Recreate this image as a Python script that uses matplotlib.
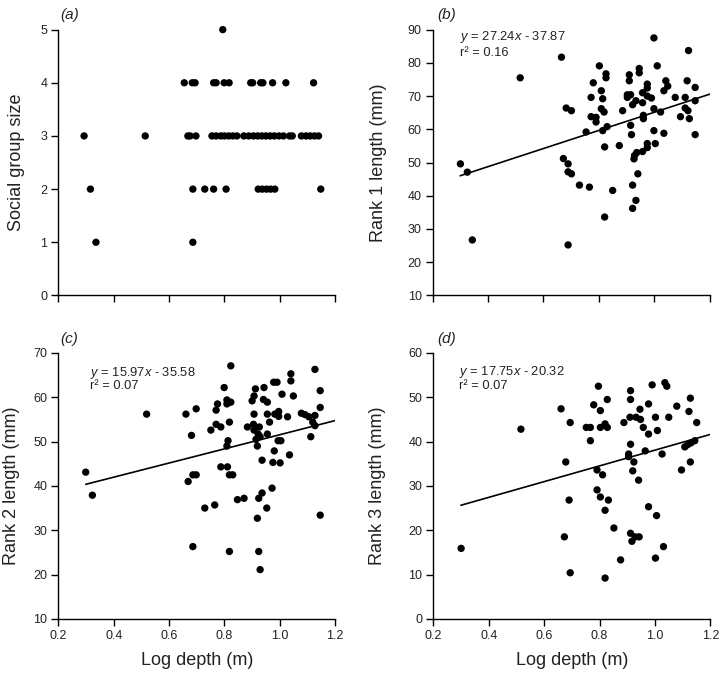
import matplotlib
matplotlib.use("Agg")
import numpy as np
import matplotlib.pyplot as plt

plt.rcParams["font.family"] = ["Liberation Sans", "DejaVu Sans"]
plt.rcParams["mathtext.fontset"] = "custom"
plt.rcParams["mathtext.it"] = "Liberation Sans:italic"
plt.rcParams["mathtext.rm"] = "Liberation Sans"

# (a) social group size vs log depth
a_depth = [0.794,
           0.655, 0.684, 0.694, 0.761, 0.770, 0.799, 0.817, 0.895, 0.902, 0.931, 0.939, 0.974, 1.022, 1.122,
           0.293, 0.514, 0.668, 0.676, 0.697, 0.755, 0.770, 0.787, 0.800, 0.815, 0.830, 0.845, 0.870, 0.888,
           0.905, 0.920, 0.935, 0.950, 0.965, 0.980, 0.997, 1.013, 1.035, 1.045, 1.078, 1.095, 1.110, 1.125, 1.140,
           0.316, 0.686, 0.729, 0.761, 0.806, 0.922, 0.937, 0.952, 0.967, 0.982, 1.148,
           0.336, 0.686]
a_size = [5,
          4, 4, 4, 4, 4, 4, 4, 4, 4, 4, 4, 4, 4, 4,
          3, 3, 3, 3, 3, 3, 3, 3, 3, 3, 3, 3, 3, 3,
          3, 3, 3, 3, 3, 3, 3, 3, 3, 3, 3, 3, 3, 3, 3,
          2, 2, 2, 2, 2, 2, 2, 2, 2, 2, 2,
          1, 1]

# (b) rank 1 length
b_depth = [0.300, 0.325, 0.343, 0.516, 0.665, 0.999, 1.124, 0.802, 1.011, 0.946, 0.946, 0.826, 0.826,
           0.910, 0.910, 0.780, 0.975, 0.975, 1.042, 1.049, 1.119, 1.148, 0.809, 0.772, 0.814, 0.903,
           0.915, 0.903, 0.958, 0.975, 0.990, 0.934, 1.035, 1.076, 1.112, 1.148, 0.682, 0.701, 0.809,
           0.819, 0.922, 0.958, 0.999, 1.023, 1.112, 1.122, 0.886, 0.772, 0.790, 0.790, 0.961, 0.961,
           1.095, 1.127, 0.754, 0.814, 0.830, 0.915, 0.999, 0.918, 1.035, 1.148, 0.821, 0.874, 0.975,
           0.975, 1.004, 0.937, 0.958, 0.929, 0.927, 0.672, 0.689, 0.689, 0.701, 0.941, 0.730, 0.766,
           0.850, 0.922, 0.934, 0.922, 0.821, 0.689]
b_rank1 = [49.6, 47.1, 26.7, 75.5, 81.7, 87.5, 83.7, 79.1, 79.1, 78.3, 77.0, 76.7, 75.5,
           76.4, 74.6, 74.0, 73.6, 72.4, 74.6, 73.0, 74.6, 72.6, 71.6, 69.6, 69.2, 70.4,
           70.4, 69.6, 71.0, 70.0, 69.4, 68.6, 71.6, 69.6, 69.6, 68.6, 66.4, 65.6, 66.2,
           65.2, 67.4, 68.0, 66.2, 65.2, 66.4, 65.6, 65.6, 63.8, 63.6, 62.2, 63.2, 64.2,
           63.8, 63.2, 59.2, 59.6, 60.8, 61.2, 59.6, 58.4, 58.8, 58.4, 54.7, 55.1, 55.7,
           54.5, 55.7, 53.0, 53.3, 52.1, 51.1, 51.2, 49.6, 47.2, 46.6, 46.6, 43.2, 42.6,
           41.6, 43.2, 38.6, 36.2, 33.6, 25.2]

# (c) rank 2 length
c_depth = [0.299, 0.323, 0.519, 0.823, 1.127, 1.040, 1.040, 0.978, 0.990, 0.799, 0.912, 0.943, 1.146,
           1.008, 1.049, 0.907, 0.900, 0.941, 0.955, 0.809, 0.823, 0.809, 0.775, 1.146, 0.698, 0.661,
           0.770, 0.907, 0.955, 0.982, 0.996, 0.996, 1.028, 1.078, 1.091, 1.105, 1.127, 1.119, 1.127,
           0.963, 0.818, 0.770, 0.787, 0.751, 0.883, 0.905, 0.926, 0.907, 0.922, 0.955, 0.681, 0.813,
           0.914, 0.929, 0.994, 1.004, 1.112, 0.809, 0.919, 0.980, 1.035, 0.936, 0.975, 1.001, 0.787,
           0.811, 0.686, 0.698, 0.818, 0.830, 0.669, 0.972, 0.936, 0.924, 0.847, 0.871, 0.765, 0.729,
           0.953, 0.919, 1.146, 0.686, 0.818, 0.924, 0.929]
c_rank2 = [43.1, 37.9, 56.2, 67.1, 66.3, 65.3, 63.7, 63.4, 63.4, 62.2, 61.9, 62.2, 61.5,
           60.7, 60.3, 60.3, 59.2, 59.5, 58.9, 59.4, 58.9, 58.5, 58.5, 57.7, 57.4, 56.2,
           57.1, 56.2, 56.2, 56.2, 56.8, 55.7, 55.6, 56.4, 56.1, 55.6, 55.9, 54.4, 53.6,
           54.4, 54.4, 53.9, 53.3, 52.6, 53.3, 53.9, 53.3, 52.6, 51.7, 51.7, 51.4, 50.2,
           50.5, 51.1, 50.2, 50.2, 51.1, 49.0, 49.0, 47.9, 47.0, 45.8, 45.3, 45.2, 44.3,
           44.3, 42.5, 42.5, 42.5, 42.5, 41.0, 39.5, 38.4, 37.2, 36.9, 37.2, 35.7, 35.0,
           35.0, 32.7, 33.4, 26.3, 25.2, 25.2, 21.1]

# (d) rank 3 length
d_depth = [0.300, 0.516, 0.796, 0.912, 0.912, 0.990, 1.036, 1.043, 0.828, 1.128, 0.779, 0.803, 0.661,
           0.977, 1.079, 1.123, 0.946, 0.910, 0.932, 0.948, 1.002, 1.050, 0.694, 1.151, 0.888, 0.752,
           0.767, 0.803, 0.820, 0.828, 0.958, 1.009, 0.977, 0.767, 0.912, 1.144, 1.130, 1.118, 1.108,
           0.965, 0.905, 0.905, 1.026, 0.678, 0.924, 1.128, 0.791, 0.920, 1.096, 0.811, 0.941, 0.791,
           0.690, 0.803, 0.832, 0.820, 0.977, 1.006, 0.852, 0.912, 0.929, 0.943, 0.917, 0.673, 1.031,
           0.876, 1.002, 0.694, 0.820]
d_rank3 = [15.9, 42.8, 52.5, 51.5, 49.5, 52.8, 53.3, 52.5, 49.5, 49.8, 48.3, 47.0, 47.4,
           48.5, 48.0, 46.8, 47.3, 45.5, 45.5, 45.0, 45.5, 45.5, 44.3, 44.3, 44.3, 43.2,
           43.2, 43.2, 44.0, 43.2, 43.2, 42.5, 41.7, 40.2, 39.4, 40.2, 39.7, 39.3, 38.8,
           37.9, 37.2, 36.6, 37.2, 35.4, 35.4, 35.4, 33.6, 33.4, 33.6, 32.5, 31.3, 29.1,
           26.8, 27.5, 26.8, 24.5, 25.3, 23.3, 20.5, 19.3, 18.5, 18.5, 17.5, 18.5, 16.3,
           13.3, 13.7, 10.4, 9.2]

# regression lines (slope, intercept) and printed labels
fit_slope = [27.24, 15.97, 17.75]
fit_icept = [37.87, 35.58, 20.32]
fit_label = ["$y$ = 27.24$x$ - 37.87", "$y$ = 15.97$x$ - 35.58", "$y$ = 17.75$x$ - 20.32"]
fit_r2 = ["r\u00b2 = 0.16", "r\u00b2 = 0.07", "r\u00b2 = 0.07"]

fig = plt.figure(figsize=(7.2, 6.73), dpi=100)
w, h = 0.3845, 0.395
ax_a = fig.add_axes([0.081, 0.561, w, h])
ax_b = fig.add_axes([0.601, 0.561, w, h])
ax_c = fig.add_axes([0.081, 0.0805, w, h])
ax_d = fig.add_axes([0.602, 0.0805, w, h])

panels = [
    (ax_a, a_depth, a_size, "(a)", "Social group size", (0, 5), np.arange(0, 6, 1)),
    (ax_b, b_depth, b_rank1, "(b)", "Rank 1 length (mm)", (10, 90), np.arange(10, 91, 10)),
    (ax_c, c_depth, c_rank2, "(c)", "Rank 2 length (mm)", (10, 70), np.arange(10, 71, 10)),
    (ax_d, d_depth, d_rank3, "(d)", "Rank 3 length (mm)", (0, 60), np.arange(0, 61, 10)),
]
label_x = [-0.12, -0.165, -0.14, -0.172]

for i, (ax, xs, ys, tag, ylab, ylim, yt) in enumerate(panels):
    ax.scatter(xs, ys, s=28, color="black", edgecolors="none", zorder=3, clip_on=False)
    ax.set_xlim(0.2, 1.2)
    ax.set_ylim(*ylim)
    ax.set_xticks(np.arange(0.2, 1.21, 0.2))
    ax.set_yticks(yt)
    for s in ["top", "right"]:
        ax.spines[s].set_visible(False)
    for s in ["left", "bottom"]:
        ax.spines[s].set_linewidth(1.0)
    ax.tick_params(direction="out", length=5, width=1.0, labelsize=9, colors="black",
                   labelcolor="#222222", pad=3)
    ax.set_ylabel(ylab, fontsize=13, color="#222222")
    ax.yaxis.set_label_coords(label_x[i], 0.5)
    xoff = 0.006 if i in (0, 2) else 0.015
    ax.text(xoff, 1.028, tag, transform=ax.transAxes, fontsize=11, style="italic",
            ha="left", va="bottom", color="#222222")
    if i < 2:
        ax.set_xticklabels([])
    else:
        ax.set_xticklabels(["0.2", "0.4", "0.6", "0.8", "1.0", "1.2"])
        ax.set_xlabel("Log depth (m)", fontsize=13, color="#222222")
        ax.xaxis.set_label_coords(0.5, -0.125)

# regression lines + equations on (b), (c), (d)
line_x = np.array([0.30, 1.2])
eq_pos = [(0.097, 0.972, 0.912), (0.115, 0.925, 0.874), (0.094, 0.93, 0.877)]
for k, ax in enumerate([ax_b, ax_c, ax_d]):
    ax.plot(line_x, fit_slope[k] * line_x + fit_icept[k], color="black", lw=1.2, zorder=2)
    ex, ey1, ey2 = eq_pos[k]
    ax.text(ex, ey1, fit_label[k], transform=ax.transAxes, fontsize=9.3, va="center",
            ha="left", color="#222222")
    ax.text(ex, ey2, fit_r2[k], transform=ax.transAxes, fontsize=9.3, va="center",
            ha="left", color="#222222")

fig.savefig("out.png", dpi=100, facecolor="white")
